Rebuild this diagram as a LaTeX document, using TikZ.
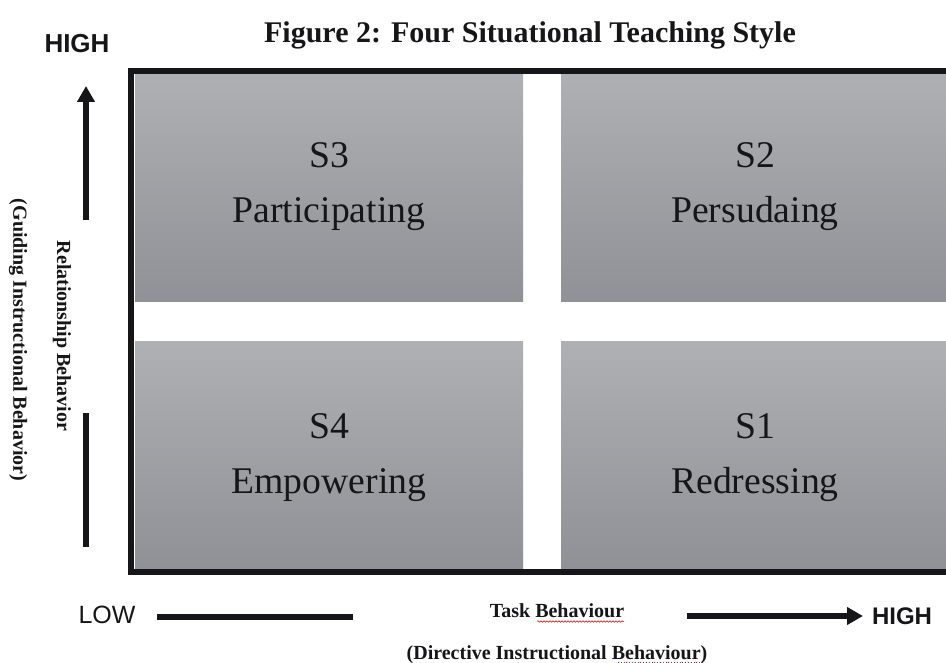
\documentclass[tikz,border=0pt]{standalone}
\usepackage{fontspec}
\setmainfont{Liberation Serif}
\newfontfamily\arialfont{Liberation Sans}
\usetikzlibrary{arrows.meta,decorations.pathmorphing}
\definecolor{qtop}{RGB}{175,176,180}
\definecolor{qbot}{RGB}{143,145,150}
\definecolor{inkc}{RGB}{22,22,24}
\begin{document}
\begin{tikzpicture}[x=1pt,y=-1pt,
  quad/.style={draw=none, top color=qtop, bottom color=qbot, minimum width=388pt, inner sep=0pt, outer sep=0pt},
  qlabel/.style={font=\fontsize{37.7}{40}\selectfont, anchor=base, inner sep=0pt, text=inkc},
  axislab/.style={font=\fontsize{20}{22}\selectfont\bfseries, anchor=base, inner sep=0pt, text=inkc},
  axisline/.style={line width=6.5pt, draw=inkc},
  axistip/.style={-{Triangle[width=17pt,length=16pt]}},
  sanslab/.style={font=\arialfont\fontsize{25}{27}\selectfont, inner sep=0pt, text=inkc}
]
\useasboundingbox (0,0) rectangle (946,663);
% quadrants
\node[quad, minimum height=228pt] (q3) at (329,188) {};
\node[quad, minimum height=228pt] (q2) at (755,188) {};
\node[quad, minimum height=226pt] (q4) at (329,455) {};
\node[quad, minimum height=226pt] (q1) at (755,455) {};
% frame
\node[draw=inkc, line width=6pt, minimum width=821pt, minimum height=501pt, inner sep=0pt] (frame) at (541.5,321.5) {};
% quadrant labels
\node[qlabel] (s3) at (329,168) {S3};
\node[qlabel] (t3) at (329,223) {Participating};
\node[qlabel] (s2) at (755,168) {S2};
\node[qlabel] (t2) at (755,223) {Persudaing};
\node[qlabel] (s4) at (329,438) {S4};
\node[qlabel] (t4) at (329,493) {Empowering};
\node[qlabel] (s1) at (755,438) {S1};
\node[qlabel] (t1) at (755,493) {Redressing};
% title
\node[font=\fontsize{30}{32}\selectfont\bfseries, anchor=base, inner sep=0pt, text=inkc] (title) at (530,43) {Figure 2: Four Situational Teaching Style};
% vertical axis
\node[sanslab, font=\arialfont\bfseries\fontsize{26}{28}\selectfont] (hightop) at (77,44) {HIGH};
\coordinate (va1) at (86,220);
\coordinate (va2) at (86,86);
\draw[axisline, axistip] (va1) -- (va2);
\coordinate (vb1) at (86,413);
\coordinate (vb2) at (86,547);
\draw[axisline] (vb1) -- (vb2);
\node[axislab, rotate=-90, anchor=center] (rel) at (62,336) {Relationship Behavior};
\node[axislab, rotate=-90, anchor=center] (guid) at (18,340) {(Guiding Instructional Behavior)};
% horizontal axis
\node[sanslab] (low) at (107,615) {LOW};
\coordinate (ha1) at (157,617);
\coordinate (ha2) at (353,617);
\draw[axisline, line width=6pt] (ha1) -- (ha2);
\node[axislab] (task) at (557,617) {Task Behaviour};
\coordinate (hb1) at (687,616);
\coordinate (hb2) at (863,616);
\draw[axisline, line width=6pt, axistip] (hb1) -- (hb2);
\node[sanslab, font=\arialfont\bfseries\fontsize{24}{26}\selectfont] (highright) at (902,616) {HIGH};
\node[axislab] (dir) at (557,659) {(Directive Instructional Behaviour)};
% spell-check marks
\coordinate (w1) at (537,621.5);
\coordinate (w2) at (624,621.5);
\draw[red!80!black, line width=0.5pt, decorate, decoration={snake, amplitude=0.8pt, segment length=3pt}] (w1) -- (w2);
\coordinate (d1) at (618,662);
\coordinate (d2) at (703,662);
\draw[red!70!gray, line width=0.8pt, dotted] (d1) -- (d2);
\end{tikzpicture}
\end{document}
